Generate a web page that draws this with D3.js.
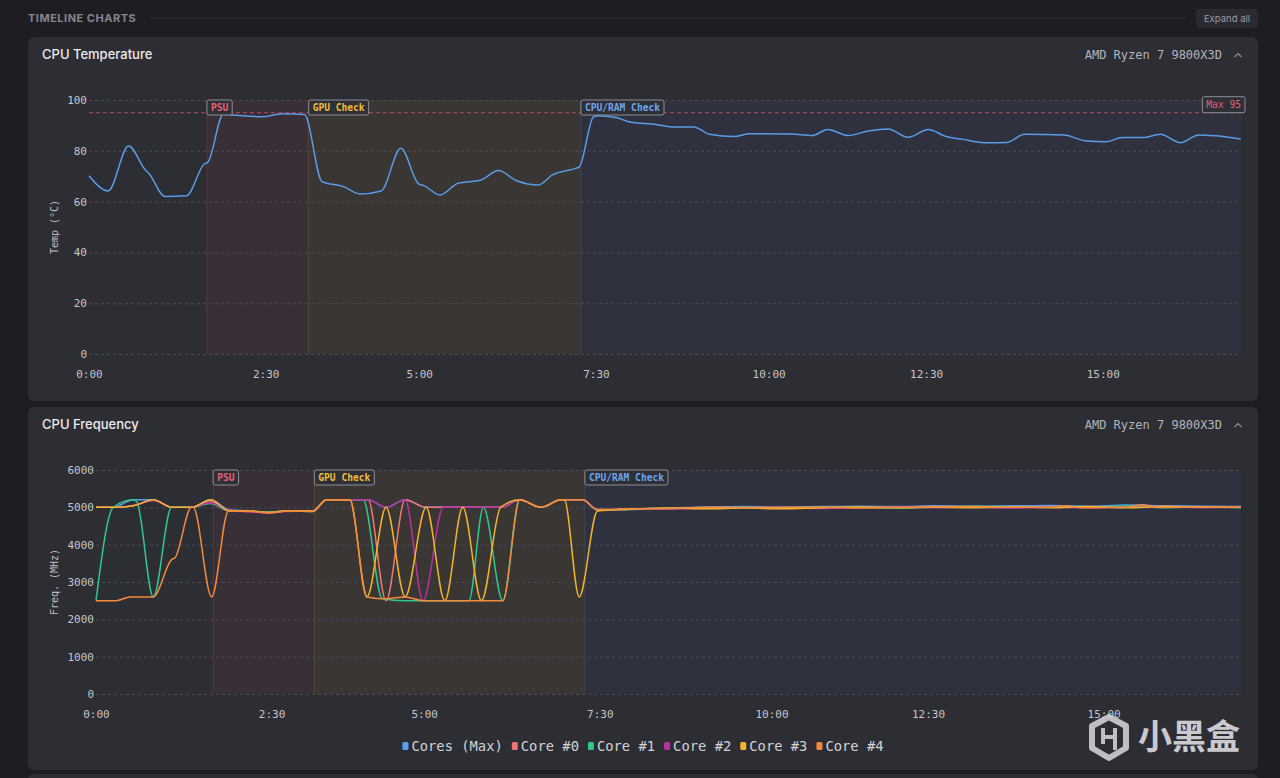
<!DOCTYPE html>
<html>
<head>
<meta charset="utf-8">
<script src="https://cdn.jsdelivr.net/npm/d3@7"></script>
<style>
body{margin:0;background:#1d1d22;}
svg{display:block;}
</style>
</head>
<body>
<svg id="chart" width="1280" height="778"></svg>
<script>
// x is the sample index (0..300), the time labels sit on these samples
var tickIdx=[0,46,86,132,177,218,264];
var tickLabels=["0:00","2:30","5:00","7:30","10:00","12:30","15:00"];

var phaseNames=["PSU","GPU Check","CPU/RAM Check"];
var phaseStart=[30.7,57.2,128.1];
var phaseEnd=[57.2,128.1,300];

var tempTicks=[0,20,40,60,80,100];
var tempMax=95;
var tempIdx=[0,5,10.3,14.7,15.6,19.8,25.4,30,31,35,37.5,45,50.5,56.1,60.7,66.3,70.5,76.1,81.2,85.8,87.2,91.4,96.1,102.1,106.6,111.4,117,120.7,126.7,127.7,131.4,132.6,137.2,141.2,147.7,151.7,157.5,161.6,168,172,183,188.3,192.4,197.7,202.9,208.1,213.3,218.6,223.2,227.3,233.1,239,243.6,254,259.3,265,269,274.4,279,284.2,289,295.3,300];
var tempVal=[70.2,64.2,81.9,72.4,71.1,62,62.3,74.8,75.6,94.4,94.1,93.4,94.6,94.3,67.8,65.9,63,64.2,81,67,66.3,62.6,67.2,68.5,72.2,68.2,66.5,70.5,73.1,73.7,93.4,93.8,93.1,91.2,90.4,89.4,89.4,86.5,85.6,86.7,86.6,86,88.4,86,87.8,88.6,85.3,88.4,85.6,84.6,83.2,83.3,86.5,86.2,84,83.6,85.2,85.2,86.5,83.2,86.2,85.6,84.6];

var freqTicks=[0,1000,2000,3000,4000,5000,6000];
var seriesNames=["Cores (Max)","Core #0","Core #1","Core #2","Core #3","Core #4"];
var seriesColors=["#5b9ef0","#f07474","#2fc78f","#b8329e","#f2b52a","#f58a3a"];

var coresMax=[[0,5000],[4.5,5000],[9.8,5200],[15,5200],[20,5000],[25,5000],[30,5200],[35,4930],[40,4910],[45.4,4870],[50,4910],[56.8,4910],[60.4,5200],[71.3,5200],[76,5000],[81,5200],[86.5,5000],[106.2,5000],[111,5200],[116.6,5000],[121.8,5200],[127.5,5200],[131.4,4940],[140,4960],[150,4980],[160,5010],[170,5020],[180,5010],[190,5020],[200,5030],[210,5020],[220,5040],[230,5030],[240,5040],[250,5050],[260,5030],[270,5060],[280,5040],[290,5030],[300,5020]];
var core0=[[0,5000],[5,5000],[10,5050],[15,5190],[20,5000],[25,5000],[30,5150],[35,4920],[40,4890],[45.4,4860],[50,4900],[56.8,4900],[60.4,5200],[71.3,5200],[76,2500],[81,5200],[86.5,5000],[106.2,5000],[111,5200],[116.6,5000],[121.8,5200],[127.5,5200],[131.4,4930],[140,4950],[150,4960],[160,4990],[170,5000],[180,4980],[190,4990],[200,5010],[210,5000],[220,5020],[230,5010],[240,4990],[250,5020],[260,5000],[270,5010],[280,5030],[290,5000],[300,5000]];
var core1=[[0,2500],[4.5,5000],[9.8,5200],[10.7,5150],[15,2600],[19.8,5000],[25,5000],[30,5100],[35,4900],[40,4900],[45.4,4870],[50,4910],[56.8,4890],[60.4,5200],[70,5200],[75,2550],[81,2500],[97.7,2500],[101.5,5000],[106.6,2500],[111,5200],[116.6,5000],[121.8,5200],[127.5,5200],[131.4,4920],[140,4940],[150,4970],[160,4980],[170,5000],[180,4990],[190,5000],[200,5000],[210,4980],[220,5010],[230,5030],[240,5010],[250,5000],[260,5010],[270,5040],[280,4990],[290,5010],[300,4990]];
var core2=[[0,5000],[5,5000],[10,5050],[15,5180],[20,5000],[25,5000],[30,5120],[35,4910],[40,4880],[45.4,4850],[50,4890],[56.8,4900],[60.4,5200],[71.3,5200],[76,5000],[81,5200],[85.7,2500],[91,5000],[106.2,5000],[111,5200],[116.6,5000],[121.8,5200],[127.5,5200],[131.4,4930],[140,4950],[150,4960],[160,4970],[170,4990],[180,5000],[190,4970],[200,4990],[210,5010],[220,4990],[230,5000],[240,4980],[250,5000],[260,4990],[270,5000],[280,5010],[290,4990],[300,5010]];
var core3=[[0,5000],[5,5000],[10,5050],[15,5200],[20,5000],[25,5000],[30,5200],[35,4900],[40,4900],[45.4,4860],[50,4900],[56.8,4900],[60.4,5200],[66.5,5200],[71,2600],[76,5000],[81,2600],[86.5,5000],[91.4,2500],[96.1,5000],[101,2500],[106,5000],[111,5200],[116.6,5000],[121.8,5200],[122.7,5200],[126.6,2600],[131.4,4900],[140,4950],[150,4980],[160,4960],[170,4980],[180,4960],[190,4990],[200,5010],[210,4990],[220,5000],[230,4990],[240,5010],[250,4990],[260,5020],[270,4990],[280,5020],[290,5000],[300,5000]];
var core4=[[0,2500],[5.4,2500],[8.9,2600],[15,2600],[19.8,3600],[20.7,3650],[25,5000],[25.5,5000],[30.3,2600],[34.7,4900],[40,4900],[45.4,4850],[50,4900],[56.8,4890],[60.4,5200],[66.5,5200],[71,2600],[76,2550],[81,2600],[85.7,2500],[106.6,2500],[111,5200],[116.6,5000],[121.8,5200],[127.5,5200],[131.4,4940],[140,4960],[150,4970],[160,5000],[170,4990],[180,5000],[190,5010],[200,4980],[210,5000],[220,5010],[230,5020],[240,5000],[250,5000],[254,5045],[258,4990],[270,5000],[274,5070],[278,5000],[290,5010],[300,5000]];
var freqSeries=[coresMax,core0,core1,core2,core3,core4];

var phaseFill=["rgba(255,90,110,0.06)","rgba(255,200,60,0.06)","rgba(100,160,255,0.05)"];
var phaseEdge=["rgba(230,90,110,0.22)","rgba(230,170,70,0.18)","rgba(100,150,240,0.18)"];
var phaseText=["#ec6079","#f0bc3c","#6aa6ee"];

var mono='"DejaVu Sans Mono", monospace';
var right=1241;
var svg=d3.select('#chart');

// page header
svg.append('text').attr('x',28).attr('y',22).text('TIMELINE CHARTS')
    .attr('fill','#85858f').attr('letter-spacing',0.5)
    .style('font-family','Inter').style('font-size','11px').style('font-weight',700);
svg.append('line').attr('x1',150).attr('x2',1186).attr('y1',18.5).attr('y2',18.5).attr('stroke','#2c2c33');
svg.append('rect').attr('x',1196).attr('y',9).attr('width',62).attr('height',19).attr('rx',4).attr('fill','#2a2a30');
svg.append('text').attr('x',1227).attr('y',22).attr('text-anchor','middle').text('Expand all')
    .attr('fill','#9a9aa4').style('font-family','Inter').style('font-size','9.5px');

function card(top,h,title){
    svg.append('rect').attr('x',28).attr('y',top).attr('width',1230).attr('height',h).attr('rx',6).attr('fill','#2d2d34');
    svg.append('text').attr('x',42).attr('y',top+22).text(title)
        .attr('fill','#ececf0').style('font-family','Inter').style('font-size','13px').style('font-weight',500);
    svg.append('text').attr('x',1222).attr('y',top+22).attr('text-anchor','end').text('AMD Ryzen 7 9800X3D')
        .attr('fill','#b4b4bc').style('font-family',mono).style('font-size','12px');
    svg.append('path').attr('d','M'+(1234.5)+','+(top+20)+' l3.5,-3.5 l3.5,3.5')
        .attr('fill','none').attr('stroke','#8e8e98').attr('stroke-width',1.2);
}

function drawPanel(o){
    var g=svg.append('g');
    var x=d3.scaleLinear().domain([0,300]).range([o.left,right]);
    var y=d3.scaleLinear().domain(o.yDomain).range([o.bottom,o.top]);

    phaseNames.forEach(function(n,i){
        g.append('rect').attr('x',x(phaseStart[i])).attr('y',o.top)
            .attr('width',x(phaseEnd[i])-x(phaseStart[i])).attr('height',o.bottom-o.top)
            .attr('fill',phaseFill[i]);
        g.append('line').attr('x1',x(phaseStart[i])).attr('x2',x(phaseStart[i]))
            .attr('y1',o.top).attr('y2',o.bottom).attr('stroke',phaseEdge[i]);
    });

    g.append('g').attr('transform','translate('+o.left+',0)')
        .call(d3.axisLeft(y).tickValues(o.ticks).tickFormat(d3.format('d')).tickSize(-(right-o.left)).tickPadding(2))
        .call(function(a){
            a.select('.domain').remove();
            a.selectAll('line').attr('stroke','#4a4a53').attr('stroke-dasharray','3,3');
            a.selectAll('text').attr('fill','#c6c6ca').style('font-family',mono).style('font-size','11px');
        });

    g.append('g').attr('transform','translate(0,'+o.bottom+')')
        .call(d3.axisBottom(x).tickValues(tickIdx).tickFormat(function(d,i){return tickLabels[i];}).tickSize(0).tickPadding(16))
        .call(function(a){
            a.select('.domain').remove();
            a.selectAll('text').attr('fill','#c6c6ca').style('font-family',mono).style('font-size','11px');
        });

    g.append('text').attr('transform','translate(58,'+((o.top+o.bottom)/2)+') rotate(-90)')
        .attr('text-anchor','middle').text(o.yTitle)
        .attr('fill','#c0c0c6').style('font-family',mono).style('font-size','10px');

    o.extra && o.extra(g,x,y);

    var line=d3.line().x(function(d){return x(d[0]);}).y(function(d){return y(d[1]);}).curve(d3.curveMonotoneX);
    o.series.forEach(function(s,i){
        g.append('path').datum(s).attr('d',line).attr('fill','none')
            .attr('stroke',o.colors[i]).attr('stroke-width',1.5).attr('stroke-linejoin','round');
    });

    phaseNames.forEach(function(n,i){
        var lb=g.append('g').attr('transform','translate('+x(phaseStart[i])+','+o.top+')');
        var r=lb.append('rect').attr('height',15).attr('rx',2).attr('fill','#2f2f36')
            .attr('stroke','#8e8e96').attr('stroke-width',1);
        var t=lb.append('text').attr('x',4).attr('y',11).text(n).attr('fill',phaseText[i])
            .style('font-family',mono).style('font-size','9.6px').style('font-weight',700);
        r.attr('width',t.node().getComputedTextLength()+8);
    });
}

card(37,364,'CPU Temperature');
card(407,363,'CPU Frequency');
svg.append('rect').attr('x',28).attr('y',774).attr('width',1230).attr('height',20).attr('rx',6).attr('fill','#2d2d34');

drawPanel({
    left:89, top:100, bottom:354, yDomain:[0,100], ticks:tempTicks, yTitle:'Temp (°C)',
    series:[tempIdx.map(function(d,i){return [d,tempVal[i]];})], colors:['#5a9be6'],
    extra:function(g,x,y){
        g.append('line').attr('x1',x(0)).attr('x2',x(300)).attr('y1',y(tempMax)).attr('y2',y(tempMax))
            .attr('stroke','#b04a5e').attr('stroke-dasharray','4,3').attr('stroke-width',1);
        var lb=g.append('g');
        var t=lb.append('text').attr('y',y(tempMax)-4.5).text('Max '+tempMax).attr('fill','#e0607a')
            .style('font-family',mono).style('font-size','9.6px');
        var w=t.node().getComputedTextLength()+8;
        lb.insert('rect','text').attr('x',x(300)+4-w).attr('y',y(tempMax)-16).attr('width',w).attr('height',16)
            .attr('rx',2).attr('fill','#2f2f36').attr('stroke','#8e8e96');
        t.attr('x',x(300)+8-w);
    }
});

drawPanel({
    left:96, top:470, bottom:694, yDomain:[0,6000], ticks:freqTicks, yTitle:'Freq. (MHz)',
    series:freqSeries, colors:seriesColors
});

// legend
var lg=svg.append('g');
var lx=0;
seriesNames.forEach(function(n,i){
    lg.append('rect').attr('x',lx).attr('y',-4).attr('width',6).attr('height',8).attr('rx',1.5).attr('fill',seriesColors[i]);
    var t=lg.append('text').attr('x',lx+9).attr('y',4.5).text(n).attr('fill','#d2d2d6')
        .style('font-family',mono).style('font-size','13.8px');
    lx+=9+t.node().getComputedTextLength()+9;
});
lg.attr('transform','translate('+(643-(lx-9)/2)+',746)');

// watermark
var wm=svg.append('g').attr('opacity',0.85);
wm.append('path').attr('d','M1109,717 l17,9 v22 l-17,10 l-17,-10 v-22 z')
    .attr('fill','none').attr('stroke','#d8d8dc').attr('stroke-width',6).attr('stroke-linejoin','round');
wm.append('path').attr('d','M1103,728 v16 M1115,728 v22 M1103,737 h12')
    .attr('fill','none').attr('stroke','#d8d8dc').attr('stroke-width',4);
wm.append('text').attr('x',1138).attr('y',749).text('小黑盒').attr('fill','#e6e6ea')
    .style('font-family','"Noto Sans CJK SC"').style('font-size','34px').style('font-weight',700);
</script>
</body>
</html>
